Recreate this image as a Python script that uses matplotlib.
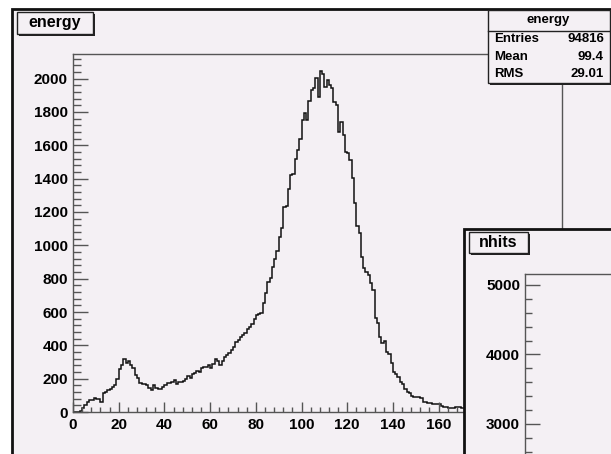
import matplotlib
matplotlib.use('Agg')
import matplotlib.pyplot as plt
from matplotlib.patches import Rectangle
from matplotlib.ticker import MultipleLocator
import numpy as np

plt.rcParams['font.family'] = ['Liberation Sans', 'DejaVu Sans']
plt.rcParams['font.weight'] = 'bold'

# ---------------- data ----------------
energy_bin_low = 0.0
energy_bin_width = 1.0
energy_counts = [
    0, 0, 0, 8, 22, 42, 62, 72, 72, 86,
    80, 76, 62, 112, 120, 132, 140, 148, 160, 196,
    256, 282, 316, 292, 306, 282, 262, 222, 202, 176,
    168, 166, 162, 142, 132, 162, 142, 136, 140, 148,
    162, 172, 176, 182, 192, 168, 182, 182, 186, 196,
    216, 202, 228, 236, 248, 242, 262, 272, 272, 282,
    262, 290, 316, 308, 282, 306, 328, 340, 352, 372,
    392, 422, 432, 448, 460, 472, 496, 512, 530, 556,
    582, 588, 592, 656, 716, 782, 802, 872, 916, 968,
    1048, 1104, 1230, 1234, 1340, 1422, 1426, 1518, 1572, 1636,
    1752, 1792, 1752, 1868, 1932, 1942, 2002, 1892, 2046, 2028,
    1952, 1992, 1962, 1942, 1862, 1842, 1682, 1742, 1662, 1562,
    1552, 1512, 1402, 1256, 1116, 1072, 932, 862, 840, 822,
    772, 732, 562, 536, 448, 412, 428, 362, 348, 292,
    242, 230, 212, 182, 168, 136, 122, 112, 96, 92,
    90, 88, 82, 62, 60, 56, 56, 48, 48, 48,
    48, 36, 32, 30, 22, 22, 22, 28, 28, 28,
    22, 22,
]
energy_x_range = (0, 214)
energy_y_range = (0, 2148)
energy_xticks = [0, 20, 40, 60, 80, 100, 120, 140, 160]
energy_yticks = [0, 200, 400, 600, 800, 1000, 1200, 1400, 1600, 1800, 2000]

stats_title = 'energy'
stats_labels = ['Entries', 'Mean', 'RMS']
stats_values = ['94816', '99.4', '29.01']

nhits_y_range = (-971, 5158)
nhits_yticks = [3000, 4000, 5000]

# ---------------- layout helpers ----------------
W, H = 611, 454
PAD_BG = '#f4f0f4'
FRAME = '#555555'

fig = plt.figure(figsize=(W / 100, H / 100), dpi=100)
fig.patch.set_facecolor('white')


def fx(x):
    return x / W


def fy(y):
    return 1 - y / H


def box(x0, y0, x1, y1, z, lw=1.0, ec='#222222', fc=PAD_BG, shadow=False):
    if shadow:
        fig.patches.append(Rectangle((fx(x0 + 2), fy(y1 + 2)), fx(x1 - x0), (y1 - y0) / H,
                                     transform=fig.transFigure, facecolor='#222222',
                                     edgecolor='none', zorder=z - 0.1))
    r = Rectangle((fx(x0), fy(y1)), fx(x1 - x0), (y1 - y0) / H,
                  transform=fig.transFigure, facecolor=fc, edgecolor=ec,
                  linewidth=lw, zorder=z)
    fig.patches.append(r)
    return r


# energy pad
box(12, 9, 700, 600, -5, lw=2.0, ec='#111111')

# energy histogram frame
ax = fig.add_axes([fx(73), fy(412), fx(562 - 73), (412 - 54) / H])
ax.set_zorder(0)
ax.set_facecolor(PAD_BG)
edges = energy_bin_low + energy_bin_width * np.arange(len(energy_counts) + 1)
ax.stairs(energy_counts, edges, color='#111111', linewidth=1.1)
ax.set_xlim(*energy_x_range)
ax.set_ylim(*energy_y_range)
ax.set_xticks(energy_xticks)
ax.set_yticks(energy_yticks)
ax.xaxis.set_minor_locator(MultipleLocator(4))
ax.yaxis.set_minor_locator(MultipleLocator(40))
for s in ax.spines.values():
    s.set_color(FRAME)
    s.set_linewidth(1.0)
ax.tick_params(axis='y', which='major', direction='in', length=10.8, width=1,
               color=FRAME, labelsize=11, pad=3.6)
ax.tick_params(axis='y', which='minor', direction='in', length=5.8, width=1, color=FRAME)
ax.tick_params(axis='x', which='major', direction='in', length=7.2, width=1,
               color=FRAME, labelsize=11, pad=4.3)
ax.tick_params(axis='x', which='minor', direction='in', length=3.6, width=1, color=FRAME)
for lab in ax.get_xticklabels() + ax.get_yticklabels():
    lab.set_fontweight('bold')

# energy title box
box(17, 12, 93, 34, 2, lw=1.0, shadow=True)
fig.text(fx(55), fy(23), 'energy', ha='center', va='center', fontsize=11.5,
         fontweight='bold', zorder=2.5)

# stats box
box(488, 10, 610, 83, 2, lw=1.0, shadow=True)
fig.lines.append(plt.Line2D([fx(488), fx(610)], [fy(31), fy(31)],
                            transform=fig.transFigure, color='#222222', lw=1.0, zorder=2.2))
fig.text(fx(548), fy(20), stats_title, ha='center', va='center', fontsize=9.5,
         fontweight='bold', zorder=2.5)
for i, (lab, val) in enumerate(zip(stats_labels, stats_values)):
    yy = 39.5 + i * 17.3
    fig.text(fx(494), fy(yy), lab, ha='left', va='center', fontsize=9.5,
             fontweight='bold', zorder=2.5)
    fig.text(fx(604), fy(yy), val, ha='right', va='center', fontsize=9.5,
             fontweight='bold', zorder=2.5)

# nhits pad
box(464, 229, 800, 700, 3, lw=2.0, ec='#111111')
ax2 = fig.add_axes([fx(525), fy(700), fx(400), (700 - 274) / H])
ax2.set_zorder(4)
ax2.set_facecolor(PAD_BG)
ax2.set_ylim(*nhits_y_range)
ax2.set_xlim(0, 1)
ax2.set_yticks(nhits_yticks)
ax2.set_xticks([])
ax2.yaxis.set_minor_locator(MultipleLocator(200))
for s in ax2.spines.values():
    s.set_color(FRAME)
    s.set_linewidth(1.0)
ax2.tick_params(axis='y', which='major', direction='in', length=10.6, width=1,
                color=FRAME, labelsize=11, pad=3.6)
ax2.tick_params(axis='y', which='minor', direction='in', length=5.2, width=1, color=FRAME)
for lab in ax2.get_yticklabels():
    lab.set_fontweight('bold')

box(469, 232, 528, 253, 5, lw=1.0, shadow=True)
fig.text(fx(498.5), fy(242.5), 'nhits', ha='center', va='center', fontsize=11.5,
         fontweight='bold', zorder=5.5)

fig.savefig('out.png', dpi=100, facecolor='white')
